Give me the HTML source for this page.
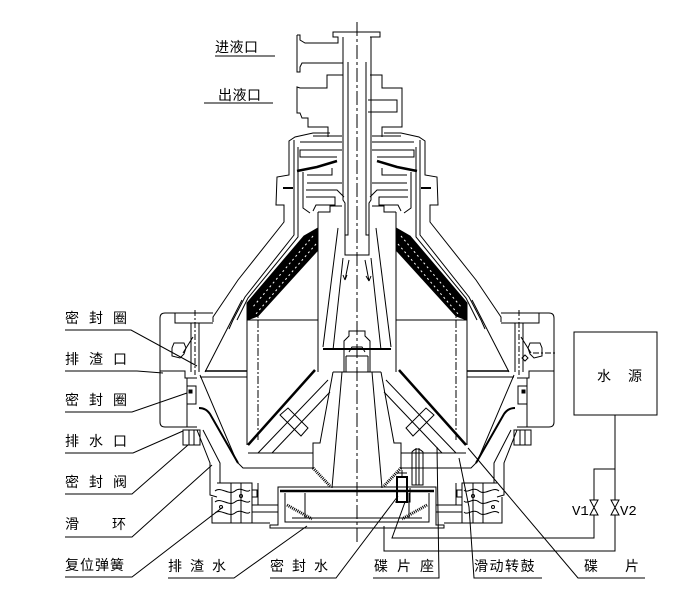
<!DOCTYPE html>
<html><head><meta charset="utf-8">
<style>
html,body{margin:0;padding:0;background:#fff;}
svg{display:block}
text{font-family:"Liberation Sans","Noto Sans CJK SC",sans-serif;font-size:14px;fill:#000}
.m{font-family:"Liberation Mono","Liberation Sans",monospace;font-size:14px}
</style></head><body>
<svg width="700" height="593" viewBox="0 0 700 593" xmlns="http://www.w3.org/2000/svg">
<defs>
<g id="L" fill="none" stroke="#000" stroke-width="1">
  <!-- casing outer -->
  <path d="M330,133 L313,133 L295,137 L289,141 L289,175 L277,177 L276,205 L284,205 L284,222 L238,280 L213,317 L213,322"/>
  <path d="M283,188 L293,188" stroke-width="2"/>
  <path d="M294,140 L294,235 L245,297 L233,320 L229,329"/>
  <path d="M298,147 L298,237 L248,298 L237,320"/>
  <path d="M242,300 L205,372"/>
  <!-- cover internals -->
  <path d="M313,136 L342,136"/>
  <path d="M300,142 L342,142"/>
  <path d="M342,150 L300,150 L300,157 L337,157"/>
  <path d="M297,171 L317,167 L337,161" stroke-width="2.5"/>
  <path d="M303,172 L303,208 L310,213"/>
  <path d="M307,175 L332,175 L332,168"/>
  <path d="M307,183 L342,183"/>
  <path d="M306,190 L337,190 L344,197"/>
  <path d="M306,197 L335,197 L335,205 L316,205 L313,211"/>
  <path d="M318,212 L318,372"/>
  <path d="M318,212 L330,212 L330,206 L342,206"/>
  <!-- disc stack band -->
  <polygon points="304,236 318,228 318,250 258,316 247,320 247,303" fill="#000" stroke="#000"/>
  <path d="M313,236 L252,308" stroke="#fff" stroke-dasharray="2 3"/>
  <path d="M316,244 L255,315" stroke="#fff" stroke-dasharray="2 3"/>
  <path d="M247,320 L318,320"/>
  <path d="M247,303 L247,445"/>
  <path d="M258,306 L258,440" stroke-dasharray="8 2 2 2"/>
  <!-- feed tube -->
  <path d="M343,37 L343,200 L345,203 L345,255 L357,255"/>
  <path d="M348,62 L348,235 L345,235"/>
  <!-- inner cone & hub -->
  <path d="M338,228 L323,347"/>
  <path d="M343,258 L333,350"/>
  <path d="M323,349 L357,349" stroke-width="2"/>
  <path d="M357,331 L349,331 L349,336 L344,341 L344,372"/>
  <path d="M346,356 L346,372 M346,356 L357,356 M349,352 L352,347 L357,347"/>
  <path d="M333,372 L357,372"/>
  <!-- lower cone region -->
  <path d="M342,372 L332,488"/>
  <path d="M333,372 L320,443 L313,443 L313,468"/>
  <path d="M313,468 L330,486" stroke-width="3" stroke-dasharray="1 1"/>
  <path d="M315,370 L248,445" stroke-width="2.5"/>
  <path d="M328,380 L258,453"/>
  <path d="M330,392 L272,453"/>
  <polygon points="280,415 288,408 308,428 301,436"/>
  <path d="M248,453 L313,453"/>
  <path d="M200,375 L237,462 L243,468 L313,468"/>
  <path d="M199,408 Q206,408 210,414 L238,463" stroke-width="2"/>
  <path d="M205,371 L247,371" stroke-width="1.5"/>
  <path d="M200,377 L247,377"/>
  <!-- flange -->
  <path d="M178,313 L165,313 Q160,313 160,318 L160,422 Q160,427 165,427 L197,427"/>
  <path d="M175,313 L213,313"/>
  <path d="M175,313 L175,323 L213,323"/>
  <path d="M191,323 L191,372 M199,323 L199,372"/>
  <path d="M195,310 L195,375" stroke-dasharray="6 2 2 2"/>
  <path d="M174,343 L172,348 L172,356 L180,358 L184,354 L186,348 L184,343 Z"/>
  <path d="M183,353 L193,337"/>
  <path d="M160,371 L185,371 L185,378 L197,378"/>
  <path d="M187,378 L187,427"/>
  <rect x="187" y="386" width="9" height="18"/>
  <rect x="189" y="390" width="3" height="3" fill="#000"/>
  <rect x="183" y="430" width="17" height="15"/>
  <path d="M189,430 L189,445 M194,430 L194,445"/>
  <!-- lower casing -->
  <path d="M197,430 L210,463 L210,495 L217,497"/>
  <path d="M203,430 L220,463 L220,483"/>
  <path d="M217,483 L252,483 L252,523 L212,523 L212,497"/>
  <path d="M231,483 L231,523 M241,483 L241,523"/>
  <path d="M215,491 C221,486 229,496 235,491 C241,486 247,494 250,490"/>
  <path d="M215,502 C221,497 229,507 235,502 C241,497 247,505 250,501"/>
  <path d="M215,513 C221,508 229,518 235,513 C241,508 247,516 250,512"/>
  <circle cx="221" cy="507" r="1.5"/>
  <circle cx="241" cy="496" r="1.5"/>
  <path d="M252,505 L278,505 M252,512 L278,512 M258,483 L258,505"/>
  <rect x="252" y="490" width="5" height="7"/>
  <path d="M252,523 L270,523"/>
  <!-- bottom chamber -->
  <path d="M357,487 L278,487 L278,525 L270,525 L270,528 L357,528"/>
  <path d="M280,491 L357,491" stroke-width="2.5"/>
  <path d="M285,493 L285,522 L357,522"/>
  <path d="M292,518 L357,518"/>
  <path d="M305,493 L305,518"/>
  <path d="M287,505 L312,519" stroke-width="3" stroke-dasharray="1 1"/>
</g>
</defs>

<use href="#L"/>
<use href="#L" transform="matrix(-1 0 0 1 714 0)"/>

<g fill="none" stroke="#000" stroke-width="1">
  <!-- centre axis -->
  <path d="M357,22 L357,545" stroke-dasharray="14 3 3 3"/>
  <!-- inlet -->
  <path d="M297,35 L300,35 L300,40 L305,43 L338,43 L338,37 L333,37 L333,32 L380,32 L380,37 L370,37"/>
  <path d="M297,35 L297,72 L300,72 L300,67 L302,63 L343,63"/>
  <!-- left outlet -->
  <path d="M343,75 L327,75 L327,88 L300,88 L297,87 L297,113 L300,113 L302,118 L308,118 L308,127 L328,127 L328,137"/>
  <!-- right outlet -->
  <path d="M370,75 L382,75 L382,88 L402,88 L402,127 L382,127 L382,137"/>
  <path d="M368,100 L397,100 L397,112 L368,112"/>
  <!-- flow arrows -->
  <path d="M349,260 L345,280 M345,280 L343,275 M345,280 L347,275"/>
  <path d="M365,260 L369,281 M369,281 L366,276 M369,281 L371,276"/>
  <!-- right flange extras -->
  <path d="M533,353 L556,353" stroke-dasharray="6 2 2 2"/>
  <path d="M525,355 L528,358 L525,361 L522,358 Z"/>
  <!-- centre pins -->
  <path d="M412,485 L412,452 Q417,446 423,452 L423,485 Z"/>
  <path d="M416,448 L416,485 M419,448 L419,485"/>
  <rect x="397" y="477" width="10" height="25" stroke-width="2"/>
  <path d="M397,473 L407,473 M402,470 L402,477"/>
  <path d="M395,502 L410,502 L410,488"/>
  <!-- water source -->
  <rect x="574" y="332" width="83" height="83"/>
  <path d="M615,415 L615,551 L384,551 L384,526"/>
  <path d="M615,469 L594,469 L594,538 L392,538 L405,502"/>
  <path d="M590,500 L598,500 L590,515 L598,515 Z" fill="#fff"/>
  <path d="M611,500 L619,500 L611,515 L619,515 Z" fill="#fff"/>
  <!-- left labels underlines & leaders -->
  <path d="M65,330 L131,330 L197,366"/>
  <path d="M65,371 L137,371 L163,373"/>
  <path d="M65,412 L132,412 L187,393"/>
  <path d="M65,453 L133,453 L183,431"/>
  <path d="M65,494 L132,494 L188,445"/>
  <path d="M65,537 L132,537 L212,465"/>
  <path d="M65,577 L132,577 L223,507"/>
  <!-- bottom labels -->
  <path d="M168,578 L234,578 L307,526"/>
  <path d="M270,578 L336,578 L398,496"/>
  <path d="M373,578 L439,578 L437,447"/>
  <path d="M542,578 L474,578 L469,507 L459,458"/>
  <path d="M645,578 L578,578 L468,448"/>
  <!-- top labels -->
  <path d="M215,56 L275,56"/>
  <path d="M204,103 L273,103"/>
</g>

<!-- text -->
<text x="65" y="323" letter-spacing="10">密封圈</text>
<text x="65" y="364" letter-spacing="10">排渣口</text>
<text x="65" y="405" letter-spacing="10">密封圈</text>
<text x="65" y="446" letter-spacing="10">排水口</text>
<text x="65" y="487" letter-spacing="10">密封阀</text>
<text x="65" y="529">滑</text>
<text x="112" y="529">环</text>
<text x="65" y="570" letter-spacing="1">复位弹簧</text>
<text x="168" y="571" letter-spacing="8">排渣水</text>
<text x="270" y="571" letter-spacing="8">密封水</text>
<text x="374" y="571" letter-spacing="9">碟片座</text>
<text x="474" y="571" letter-spacing="1.5">滑动转鼓</text>
<text x="584" y="571">碟</text>
<text x="625" y="571">片</text>
<text x="215" y="52" letter-spacing="0.5">进液口</text>
<text x="218" y="100" letter-spacing="0.5">出液口</text>
<text x="597" y="381">水</text>
<text x="628" y="381">源</text>
<text class="m" x="572" y="515">V1</text>
<text class="m" x="620" y="515">V2</text>
</svg>
</body></html>
